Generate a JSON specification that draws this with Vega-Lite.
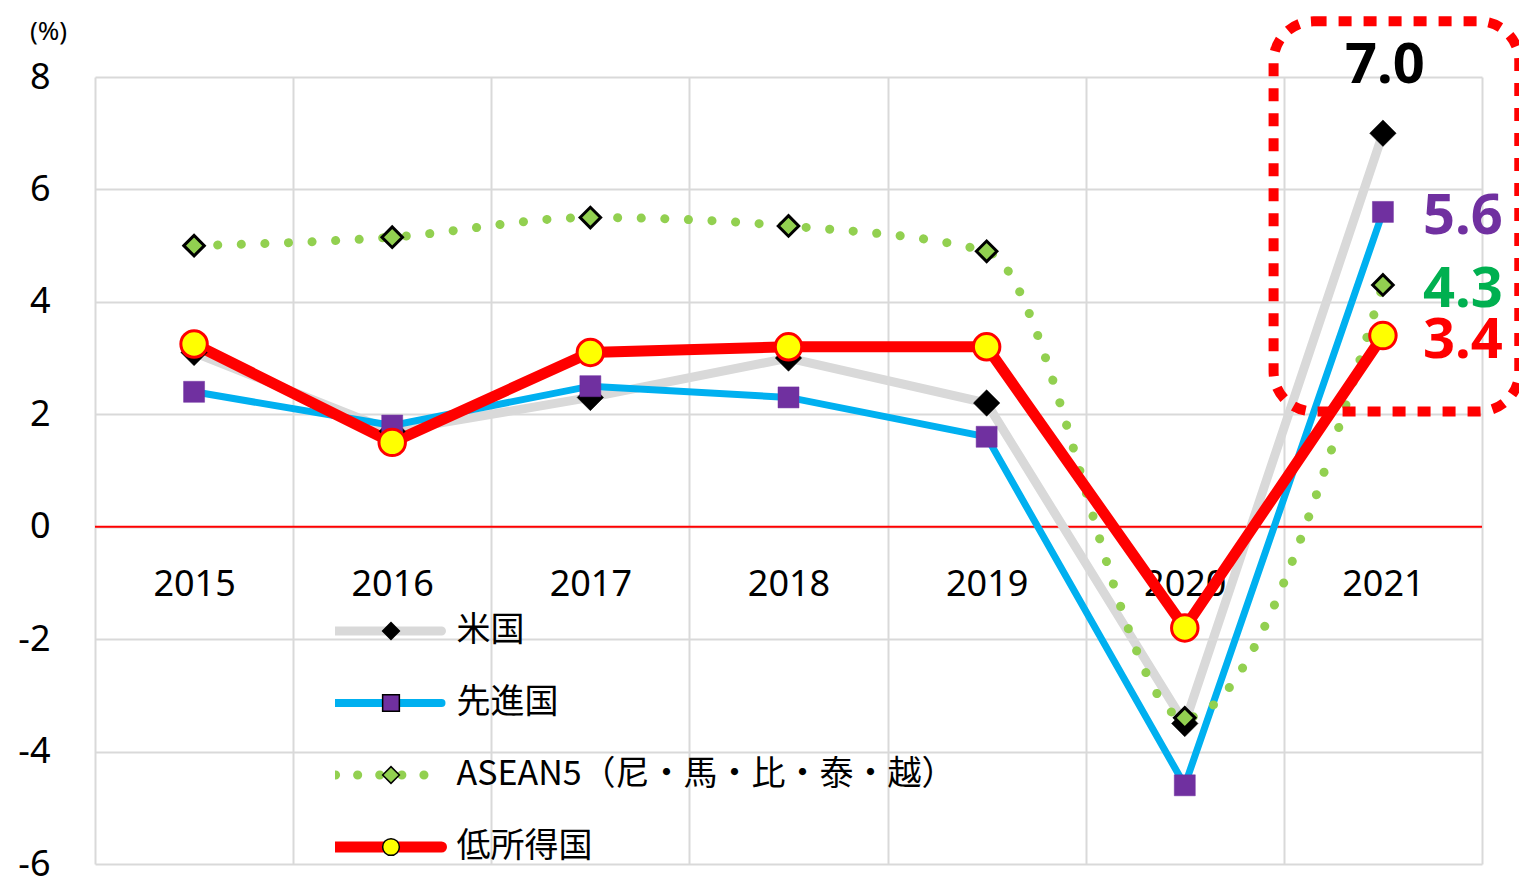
{
  "$schema": "https://vega.github.io/schema/vega-lite/v6.json",
  "width": 1387,
  "height": 787,
  "autosize": {"type": "none"},
  "padding": {"left": 95, "top": 77, "right": 37, "bottom": 15},
  "background": "white",
  "config": {"view": {"stroke": null}, "font": "Noto Sans CJK JP"},
  "data": {
    "values": [
      {"year": "2015", "series": "米国", "value": 3.1},
      {"year": "2016", "series": "米国", "value": 1.7},
      {"year": "2017", "series": "米国", "value": 2.3},
      {"year": "2018", "series": "米国", "value": 3.0},
      {"year": "2019", "series": "米国", "value": 2.2},
      {"year": "2020", "series": "米国", "value": -3.5},
      {"year": "2021", "series": "米国", "value": 7.0},
      {"year": "2015", "series": "先進国", "value": 2.4},
      {"year": "2016", "series": "先進国", "value": 1.8},
      {"year": "2017", "series": "先進国", "value": 2.5},
      {"year": "2018", "series": "先進国", "value": 2.3},
      {"year": "2019", "series": "先進国", "value": 1.6},
      {"year": "2020", "series": "先進国", "value": -4.6},
      {"year": "2021", "series": "先進国", "value": 5.6},
      {"year": "2015", "series": "ASEAN5（尼・馬・比・泰・越）", "value": 5.0},
      {"year": "2016", "series": "ASEAN5（尼・馬・比・泰・越）", "value": 5.15},
      {"year": "2017", "series": "ASEAN5（尼・馬・比・泰・越）", "value": 5.5},
      {"year": "2018", "series": "ASEAN5（尼・馬・比・泰・越）", "value": 5.35},
      {"year": "2019", "series": "ASEAN5（尼・馬・比・泰・越）", "value": 4.9},
      {"year": "2020", "series": "ASEAN5（尼・馬・比・泰・越）", "value": -3.4},
      {"year": "2021", "series": "ASEAN5（尼・馬・比・泰・越）", "value": 4.3},
      {"year": "2015", "series": "低所得国", "value": 3.25},
      {"year": "2016", "series": "低所得国", "value": 1.5},
      {"year": "2017", "series": "低所得国", "value": 3.1},
      {"year": "2018", "series": "低所得国", "value": 3.2},
      {"year": "2019", "series": "低所得国", "value": 3.2},
      {"year": "2020", "series": "低所得国", "value": -1.8},
      {"year": "2021", "series": "低所得国", "value": 3.4}
    ]
  },
  "layer": [
    {
      "data": {"values": [{}]},
      "mark": {"type": "rule", "color": "#FF0000", "strokeWidth": 2},
      "encoding": {"y": {"datum": 0, "type": "quantitative"}}
    },
    {
      "transform": [{"filter": "datum.series === '米国'"}],
      "mark": {"type": "line", "strokeWidth": 9},
      "encoding": {
        "x": {
          "field": "year", "type": "ordinal", "sort": null,
          "scale": {"paddingInner": 0, "paddingOuter": 0},
          "axis": {
            "title": null, "orient": "bottom", "offset": -337, "domain": false, "ticks": false,
            "tickBand": "extent", "grid": true, "gridColor": "#D9D9D9", "gridWidth": 2,
            "labelFontSize": 36, "labelPadding": 57, "labelBaseline": "middle", "labelColor": "black",
            "labelAngle": 0, "labelFont": "Noto Sans"
          }
        },
        "y": {
          "field": "value", "type": "quantitative",
          "scale": {"domain": [-6, 8], "nice": false, "zero": false},
          "axis": {
            "values": [-6, -4, -2, 0, 2, 4, 6, 8],
            "title": "(%)", "titleAngle": 0, "titleX": -47, "titleY": -46, "titleAlign": "center",
            "titleBaseline": "middle", "titleFontSize": 26, "titleFontWeight": "normal", "titleColor": "black",
            "titleFont": "Noto Sans",
            "labelFontSize": 36, "labelPadding": 45, "labelColor": "black", "labelFont": "Noto Sans",
            "domain": false, "ticks": false, "grid": true, "gridColor": "#D9D9D9", "gridWidth": 2,
            "labelExpr": "datum.value < 0 ? '-' + abs(datum.value) : '' + datum.value"
          }
        },
        "stroke": {
          "field": "series", "type": "nominal",
          "scale": {
            "domain": ["米国", "先進国", "ASEAN5（尼・馬・比・泰・越）", "低所得国"],
            "range": ["#D9D9D9", "#00B0F0", "#92D050", "#FF0000"]
          },
          "legend": {
            "title": null, "orient": "none", "legendX": 240, "legendY": 534, "padding": 0,
            "symbolType": "M-2.65,0H2.65", "symbolSize": 1600, "clipHeight": 40, "rowPadding": 32,
            "symbolOffset": 36.5, "labelOffset": 51,
            "labelFontSize": 34, "labelFont": "Noto Sans CJK JP", "labelColor": "black",
            "labelLimit": 0,
            "encode": {
              "symbols": {
                "update": {
                  "fill": {"value": "transparent"},
                  "strokeCap": {"value": "round"},
                  "strokeWidth": {"signal": "datum.value === '米国' ? 9 : datum.value === '先進国' ? 8 : datum.value === '低所得国' ? 11 : 9"},
                  "strokeDash": {"signal": "datum.value === 'ASEAN5（尼・馬・比・泰・越）' ? [0.1, 22] : [1, 0]"}
                }
              }
            }
          }
        }
      }
    },
    {
      "transform": [{"filter": "datum.series === '先進国'"}],
      "mark": {"type": "line", "strokeWidth": 7},
      "encoding": {
        "x": {"field": "year", "type": "ordinal", "sort": null},
        "y": {"field": "value", "type": "quantitative"},
        "stroke": {"field": "series", "type": "nominal"}
      }
    },
    {
      "transform": [{"filter": "datum.series === 'ASEAN5（尼・馬・比・泰・越）'"}],
      "mark": {"type": "line", "strokeWidth": 9, "strokeDash": [0.1, 23.5], "strokeCap": "round", "interpolate": "monotone"},
      "encoding": {
        "x": {"field": "year", "type": "ordinal", "sort": null},
        "y": {"field": "value", "type": "quantitative"},
        "stroke": {"field": "series", "type": "nominal"}
      }
    },
    {
      "transform": [{"filter": "datum.series === '低所得国'"}],
      "mark": {"type": "line", "strokeWidth": 11},
      "encoding": {
        "x": {"field": "year", "type": "ordinal", "sort": null},
        "y": {"field": "value", "type": "quantitative"},
        "stroke": {"field": "series", "type": "nominal"}
      }
    },
    {
      "mark": {"type": "point", "filled": true, "opacity": 1},
      "encoding": {
        "x": {"field": "year", "type": "ordinal", "sort": null},
        "y": {"field": "value", "type": "quantitative"},
        "shape": {
          "field": "series", "type": "nominal",
          "scale": {
            "domain": ["低所得国", "ASEAN5（尼・馬・比・泰・越）", "先進国", "米国"],
            "range": ["circle", "diamond", "square", "diamond"]
          },
          "legend": {
            "title": null, "orient": "bottom-left", "offset": -3, "padding": 0,
            "values": ["米国", "先進国", "ASEAN5（尼・馬・比・泰・越）", "低所得国"],
            "symbolSize": 280, "clipHeight": 40, "rowPadding": 32, "symbolOffset": 283,
            "labelOffset": 10, "labelFontSize": 32, "labelOpacity": 0, "labelLimit": 0, "labelExpr": "''",
            "encode": {
              "symbols": {
                "update": {
                  "opacity": {"value": 1},
                  "stroke": {"signal": "datum.value === '低所得国' ? '#FF0000' : datum.value === 'ASEAN5（尼・馬・比・泰・越）' ? '#000000' : 'transparent'"},
                  "strokeWidth": {"value": 2.5}
                }
              }
            }
          }
        },
        "fill": {
          "field": "series", "type": "nominal",
          "scale": {
            "domain": ["低所得国", "ASEAN5（尼・馬・比・泰・越）", "先進国", "米国"],
            "range": ["#FFFF00", "#92D050", "#7030A0", "#000000"]
          },
          "legend": {
            "title": null, "orient": "bottom-left", "offset": -3, "padding": 0,
            "values": ["米国", "先進国", "ASEAN5（尼・馬・比・泰・越）", "低所得国"],
            "symbolSize": 280, "clipHeight": 40, "rowPadding": 32, "symbolOffset": 283,
            "labelOffset": 10, "labelFontSize": 32, "labelOpacity": 0, "labelLimit": 0, "labelExpr": "''"
          }
        },
        "size": {
          "condition": [
            {"test": "datum.series === '低所得国'", "value": 700},
            {"test": "datum.series === '米国'", "value": 700},
            {"test": "datum.series === '先進国'", "value": 441}
          ],
          "value": 420
        },
        "stroke": {
          "condition": [
            {"test": "datum.series === '低所得国'", "value": "#FF0000"},
            {"test": "datum.series === '先進国'", "value": "#7030A0"}
          ],
          "value": "#000000"
        },
        "strokeWidth": {
          "condition": [
            {"test": "datum.series === '低所得国'", "value": 3},
            {"test": "datum.series === 'ASEAN5（尼・馬・比・泰・越）'", "value": 3}
          ],
          "value": 0.5
        }
      }
    },
    {
      "transform": [{"filter": "datum.year === '2021' && datum.series !== '米国'"}],
      "mark": {"type": "text", "align": "left", "baseline": "middle", "dx": 40, "dy": 5, "fontSize": 56, "fontWeight": "bold", "font": "Noto Sans"},
      "encoding": {
        "x": {"field": "year", "type": "ordinal", "sort": null},
        "y": {"field": "value", "type": "quantitative"},
        "text": {"field": "value", "type": "quantitative", "format": ".1f"},
        "color": {
          "condition": [
            {"test": "datum.series === '先進国'", "value": "#7030A0"},
            {"test": "datum.series === '低所得国'", "value": "#FF0000"}
          ],
          "value": "#00B050"
        }
      }
    },
    {
      "transform": [{"filter": "datum.year === '2021' && datum.series === '米国'"}],
      "mark": {"type": "text", "align": "center", "baseline": "middle", "dx": 2, "dy": -67, "fontSize": 56, "fontWeight": "bold", "font": "Noto Sans", "color": "#000000"},
      "encoding": {
        "x": {"field": "year", "type": "ordinal", "sort": null},
        "y": {"field": "value", "type": "quantitative"},
        "text": {"field": "value", "type": "quantitative", "format": ".1f"}
      }
    },
    {
      "data": {"values": [{}]},
      "mark": {"type": "rect", "fill": null, "stroke": "#FF0000", "strokeWidth": 10, "strokeDash": [13, 12], "cornerRadius": 40, "width": {"band": 1.24}, "xOffset": 13.5},
      "encoding": {
        "x": {"datum": "2021", "type": "ordinal"},
        "y": {"datum": 8.99, "type": "quantitative"},
        "y2": {"datum": 2.05}
      }
    }
  ]
}
